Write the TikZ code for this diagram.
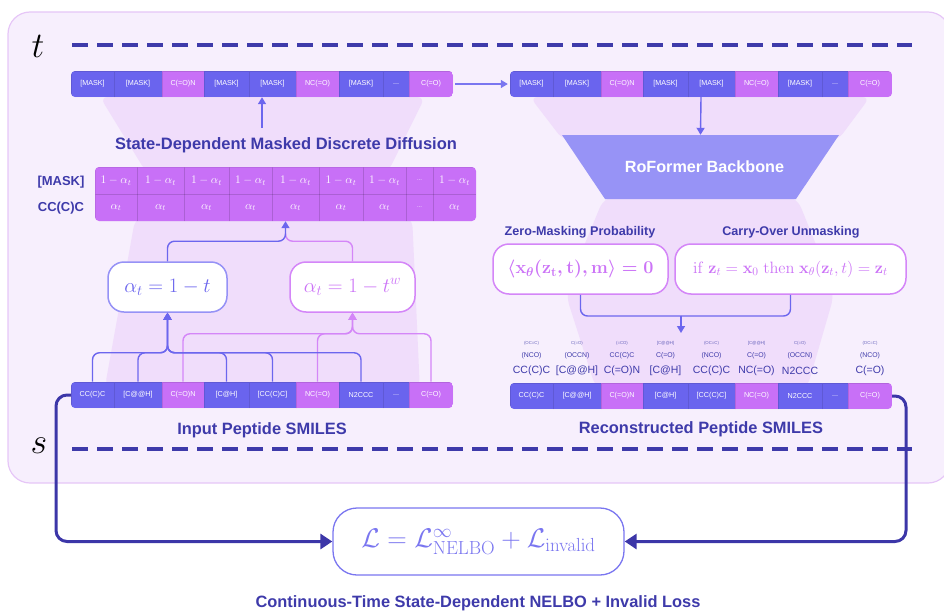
\RequirePackage{fix-cm}
\documentclass[tikz,border=0pt]{standalone}
\usepackage[no-math]{fontspec}
\setmainfont{Liberation Sans}
\usetikzlibrary{arrows.meta,calc}

\definecolor{navy}{RGB}{62,58,170}
\definecolor{tokB}{RGB}{106,100,238}
\definecolor{tokM}{RGB}{200,112,247}
\definecolor{bbcol}{RGB}{151,147,246}
\definecolor{panelbg}{RGB}{247,239,253}
\definecolor{panelline}{RGB}{230,198,247}
\definecolor{funnel}{RGB}{240,221,251}
\definecolor{wireB}{RGB}{108,102,238}
\definecolor{wireM}{RGB}{212,134,248}
\definecolor{boxB}{RGB}{150,146,246}
\definecolor{txtM}{RGB}{204,116,247}
\definecolor{lossB}{RGB}{122,118,240}
\definecolor{lossline}{RGB}{60,54,168}

\tikzset{
  tok/.style={inner sep=0pt, minimum height=26pt, text=white,
    font=\fontsize{7.2}{8}\selectfont, draw=black, draw opacity=0.1, line width=0.6pt},
  mcell/.style={inner sep=0pt, minimum height=27pt, text=white!94!tokM,
    font=\fontsize{11.5}{12}\selectfont, draw=black, draw opacity=0.07, line width=0.6pt},
  rowlab/.style={text=navy, font=\bfseries\fontsize{13}{14}\selectfont},
  caption/.style={text=navy, font=\bfseries\fontsize{16.4}{18}\selectfont},
  subcap/.style={text=navy, font=\bfseries\fontsize{12.6}{14}\selectfont},
  fbox/.style={draw=wireM, line width=1.5pt, fill=white, rounded corners=16pt,
    minimum height=50pt, inner sep=0pt, text=txtM},
  wireblue/.style={draw=wireB, line width=1.4pt, rounded corners=7pt},
  wiremag/.style={draw=wireM, line width=1.4pt, rounded corners=7pt},
  tip/.style={-{Triangle[length=7pt,width=8pt]}},
  timeline/.style={draw=navy, line width=3.3pt, dash pattern=on 16pt off 9pt},
  lossarrow/.style={draw=lossline, line width=3pt, rounded corners=11pt,
    -{Triangle[length=12pt,width=15pt]}},
  lab1/.style={text=navy!80, font=\fontsize{4.3}{5}\selectfont, inner sep=0pt},
  lab2/.style={text=navy, font=\fontsize{6.9}{8}\selectfont, inner sep=0pt},
  lab3/.style={text=navy, font=\fontsize{10.5}{12}\selectfont, inner sep=0pt},
}

% a row of nine tokens: name, left x, top y, list of cells
\newcommand\tokrow[4]{%
  \node[inner sep=0pt, minimum width=382pt, minimum height=26pt] (#1) at (#2+191,#3+13) {};
  \begin{scope}
    \clip[rounded corners=4pt] (#2,#3) rectangle ++(382,26);
    \foreach \a/\b/\lab/\col [count=\i] in #4 {
      \pgfmathsetmacro\w{\b-\a}
      \node[tok, fill=\col, minimum width=\w pt] (#1-\i) at ({#2+(\a+\b)/2},{#3+13}) {\lab};
    }
  \end{scope}
}
\newcommand\maskcells{0/43/{[MASK]}/tokB, 43/91/{[MASK]}/tokB, 91/133/{C(=O)N}/tokM,
  133/178/{[MASK]}/tokB, 178/225/{[MASK]}/tokB, 225/268/{NC(=O)}/tokM,
  268/312/{[MASK]}/tokB, 312/338/{...}/tokB, 338/382/{C(=O)}/tokM}
\newcommand\smilescells{0/43/{CC(C)C}/tokB, 43/91/{[C@@H]}/tokB, 91/133/{C(=O)N}/tokM,
  133/178/{[C@H]}/tokB, 178/225/{[CC(C)C]}/tokB, 225/268/{NC(=O)}/tokM,
  268/312/{N2CCC}/tokB, 312/338/{...}/tokB, 338/382/{C(=O)}/tokM}
\newcommand\zeromask{$\langle\mathbf{x}_{\theta}(\mathbf{z}_{\mathbf{t}},\mathbf{t}),\mathbf{m}\rangle=0$}
\newcommand\carryover{$\mathrm{if}\ \mathbf{z}_{t}=\mathbf{x}_{0}\ \mathrm{then}\ \mathbf{x}_{\theta}(\mathbf{z}_{t},t)=\mathbf{z}_{t}$}

\begin{document}
\begin{tikzpicture}[x=1pt,y=-1pt]
\useasboundingbox (0,0) rectangle (944,610);
\clip (0,0) rectangle (944,610);

% background panel
\draw[fill=panelbg, draw=panelline, line width=1.2pt, rounded corners=22pt] (8,12) rectangle (950,483);

% light funnels behind the two columns
\fill[funnel, rounded corners=8pt] (100,97) -- (425,97) -- (388,172) -- (146,172) -- cycle;
\fill[funnel, rounded corners=14pt] (136,214) -- (412,214) -- (420,392) -- (104,392) -- cycle;
\fill[funnel, rounded corners=8pt] (530,97) -- (870,97) -- (838,140) -- (563,140) -- cycle;
\fill[funnel, rounded corners=14pt] (605,195) -- (796,195) -- (835,292) -- (806,392) -- (597,392) -- (565,292) -- cycle;

% time axis
\node[font=\fontsize{36}{36}\selectfont, inner sep=0pt] (tlab) at (38,46) {$t$};
\node[font=\fontsize{36}{36}\selectfont, inner sep=0pt] (slab) at (39,446) {$s$};
\coordinate (tA) at (72,45);  \coordinate (tB) at (912,45);
\coordinate (sA) at (72,449); \coordinate (sB) at (912,449);
\draw[timeline] (tA) -- (tB);
\draw[timeline] (sA) -- (sB);

% ---------- left column ----------
\node[caption, font=\bfseries\fontsize{16.5}{18}\selectfont] (title) at (286,145) {State-Dependent Masked Discrete Diffusion};

% transition matrix
\node[inner sep=0pt, minimum width=381pt, minimum height=54pt, fill=tokM, rounded corners=4pt] (mat) at (285.5,194) {};
\begin{scope}
  \clip[rounded corners=4pt] (95,167) rectangle (476,221);
  \foreach \a/\b/\ta/\tb [count=\i] in {0/42/{$1-\alpha_t$}/{$\alpha_t$}, 42/89/{$1-\alpha_t$}/{$\alpha_t$},
      89/134/{$1-\alpha_t$}/{$\alpha_t$}, 134/177/{$1-\alpha_t$}/{$\alpha_t$}, 177/224/{$1-\alpha_t$}/{$\alpha_t$},
      224/268/{$1-\alpha_t$}/{$\alpha_t$}, 268/311/{$1-\alpha_t$}/{$\alpha_t$},
      311/338/{\fontsize{6}{7}\selectfont ...}/{\fontsize{6}{7}\selectfont ...}, 338/381/{$1-\alpha_t$}/{$\alpha_t$}} {
    \pgfmathsetmacro\w{\b-\a}
    \node[mcell, minimum width=\w pt] (mA-\i) at ({95+(\a+\b)/2},180.5) {\ta};
    \node[mcell, minimum width=\w pt] (mB-\i) at ({95+(\a+\b)/2},207.5) {\tb};
  }
\end{scope}
\node[rowlab] (labMask) at (61,182) {[MASK]};
\node[rowlab] (labCC) at (61,208) {CC(C)C};

% schedules
\node[fbox, draw=boxB, text=tokB, minimum width=119pt, font=\fontsize{20.5}{22}\selectfont] (aL) at (167.5,287) {$\alpha_t = 1 - t$};
\node[fbox, minimum width=125pt, font=\fontsize{20.5}{22}\selectfont] (aR) at (352.5,287) {$\alpha_t = 1 - t^w$};

% token rows
\tokrow{TopL}{71}{71}{\maskcells}
\tokrow{InL}{71}{382}{\smilescells}
\node[caption] (inCap) at (262,430) {Input Peptide SMILES};

% wires: tokens to schedules
\coordinate (busB) at ($(aL.south)+(0,40)$);
\coordinate (busM) at ($(aR.south)+(0,21)$);
\foreach \i in {3,6,9} \draw[wiremag, tip] (InL-\i.north) |- (busM) -- (aR.south);
\foreach \i in {1,2,4,5,7} \draw[wireblue, tip] (InL-\i.north) |- (busB) -- (aL.south);

% wires: schedules to matrix
\coordinate (jM) at ($(mat.south)+(0,20)$);
\draw[wiremag] (aR.north) |- (jM) -- ($(jM)+(0,-8)$);
\draw[wireblue, tip] (aL.north) |- (jM) -- (mat.south);

% matrix to masked row
\coordinate (titleTop) at ($(title.north -| TopL.south)+(0,-6)$);
\draw[wireblue, tip] (titleTop) -- (TopL.south);

% ---------- right column ----------
\tokrow{TopR}{510}{71}{\maskcells}
\draw[draw=lossB, line width=1.4pt, tip, shorten <=2pt, shorten >=2pt] (TopL.east) -- (TopR.west);

\fill[bbcol] (562,135) -- (839,135) -- (796,199) -- (605,199) -- cycle;
\node[inner sep=0pt, minimum width=277pt, minimum height=64pt, text=white, font=\bfseries\fontsize{16.2}{18}\selectfont] (bb) at (700.5,167) {\hspace{8pt}RoFormer Backbone};
\draw[wireblue, tip] (TopR.south) -- (bb.north);

\node[subcap] (zcap) at (580,232) {Zero-Masking Probability};
\node[subcap] (ccap) at (791,232) {Carry-Over Unmasking};
\node[fbox, minimum width=175pt, font=\boldmath\fontsize{18}{20}\selectfont] (fL) at (580.5,269) {\zeromask};
\node[fbox, minimum width=231pt, font=\fontsize{16.4}{18}\selectfont] (fR) at (790.5,269) {\carryover};

\tokrow{OutR}{510}{383}{\smilescells}
\node[caption] (outCap) at (701,429) {Reconstructed Peptide SMILES};

% candidate tokens above each reconstructed position
\foreach \i/\ta/\tb/\tc in {1/{(OC=C)}/{(NCO)}/{CC(C)C}, 2/{C(=O)}/{(OCCN)}/{[C@@H]},
    3/{(=CO)}/{CC(C)C}/{C(=O)N}, 4/{[C@@H]}/{C(=O)}/{[C@H]}, 5/{(OC=C)}/{(NCO)}/{CC(C)C},
    6/{[C@@H]}/{C(=O)}/{NC(=O)}, 7/{C(=O)}/{(OCCN)}/{N2CCC}, 9/{(OC=C)}/{(NCO)}/{C(=O)}} {
  \node[lab3] (cC-\i) at ($(OutR-\i.north)+(0,-12)$) {\tc};
  \node[lab2] (cB-\i) at ($(OutR-\i.north)+(0,-27)$) {\tb};
  \node[lab1] (cA-\i) at ($(OutR-\i.north)+(0,-39)$) {\ta};
}

% constraints into the output
\coordinate (jF) at (681,316);
\coordinate (fT) at (681,333);
\draw[wireblue] (fL.south) |- (jF);
\draw[wireblue] (fR.south) |- (jF);
\draw[wireblue, tip] (jF) -- (fT);

% ---------- loss ----------
\node[draw=lossB, line width=1.3pt, fill=white, rounded corners=24pt, minimum width=291pt, minimum height=67pt, text=lossB, font=\fontsize{27}{29}\selectfont] (loss) at (478.5,541.5) {$\mathcal{L}=\mathcal{L}^{\infty}_{\mathrm{NELBO}}+\mathcal{L}_{\mathrm{invalid}}$};
\coordinate (cL) at (56,541.5);
\coordinate (cR) at (906,541.5);
\draw[lossarrow] (InL.west) -| (cL) -- (loss.west);
\draw[lossarrow] (OutR.east) -| (cR) -- (loss.east);
\node[caption] (lossCap) at (478,603) {Continuous-Time State-Dependent NELBO + Invalid Loss};
\end{tikzpicture}
\end{document}
